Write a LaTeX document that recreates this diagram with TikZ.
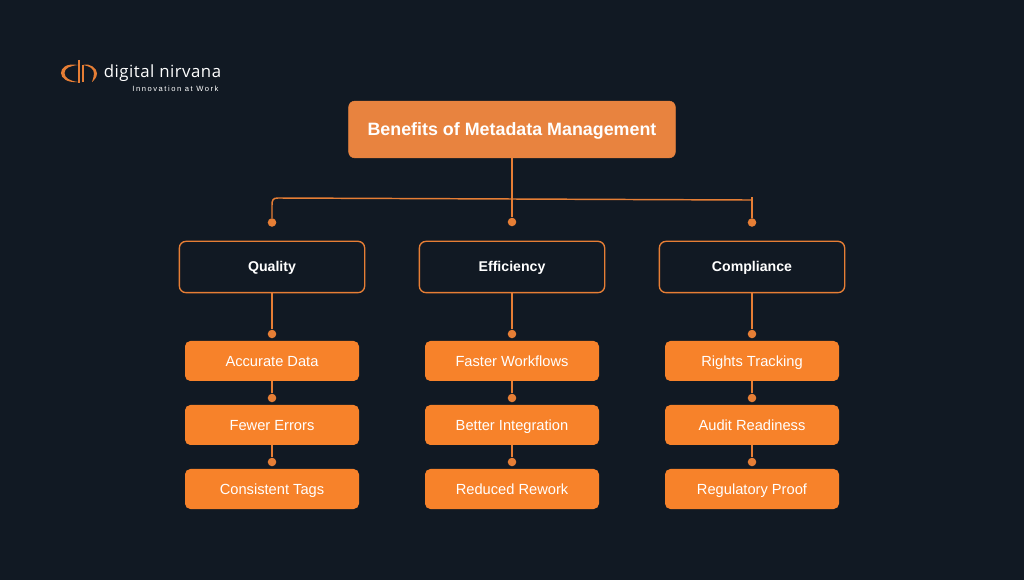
\documentclass[tikz,border=0pt]{standalone}
\usepackage{fontspec}
\usetikzlibrary{calc}
\setmainfont{Liberation Sans}
\newfontfamily\logofont{Open Sans}[LetterSpace=3]
\newfontfamily\tagfont{Liberation Sans}[LetterSpace=20]
\definecolor{bgdark}{HTML}{111923}
\definecolor{lineorange}{HTML}{E67E35}
\definecolor{titleorange}{HTML}{E8833F}
\definecolor{itemorange}{HTML}{F7822A}
\tikzset{
  titlebox/.style={draw=titleorange, fill=titleorange, rounded corners=4.5pt, minimum width=245pt, minimum height=42.5pt, text=white, text height=11.7pt, text depth=2.5pt, font=\fontsize{13.4}{15}\selectfont\bfseries},
  groupbox/.style={draw=lineorange, line width=1pt, fill=bgdark, rounded corners=5pt, minimum width=139pt, minimum height=38.5pt, text=white, text height=9.2pt, text depth=2pt, font=\fontsize{10.6}{12}\selectfont\bfseries},
  itembox/.style={fill=itemorange, rounded corners=4pt, minimum width=130.5pt, minimum height=30pt, text=white, text height=9.7pt, text depth=2pt, font=\fontsize{11}{12}\selectfont},
  dotnode/.style={circle, fill=lineorange, inner sep=0pt, minimum size=6.4pt},
  wire/.style={draw=lineorange, line width=1.1pt}
}
\begin{document}
\begin{tikzpicture}[x=0.75pt, y=-0.75pt]
  \fill [bgdark] (0, 0) rectangle (1024, 580);
  \useasboundingbox (0, 0) rectangle (1024, 580);

  \fill [lineorange] (78, 65) .. controls (66, 63) and (61, 68) .. (61, 73) .. controls (61, 78) and (67, 83) .. (78, 82) .. controls (70, 81) and (64.5, 78) .. (64.5, 73) .. controls (64.5, 68) and (70, 66) .. (78, 65);
  \draw [lineorange, line width=0.8pt] (79, 60) -- (79, 83);
  \fill [lineorange] (83, 65) .. controls (90, 63) and (97, 68) .. (97, 73.5) .. controls (97, 78) and (93, 81) .. (92, 82) .. controls (93, 79) and (94, 76) .. (94, 73.5) .. controls (94, 69) and (90, 66) .. (83, 65);
  \draw [lineorange, line width=0.8pt] (83, 65) -- (83, 82);
  \node (brand) at (162.5, 73.5) [text=white, font=\fontsize{12.6}{14}\logofont] {digital nirvana};
  \node (slogan) at (175.5, 88.5) [text=white, font=\fontsize{5.7}{7}\tagfont] {Innovation at Work};

  \node (title) at (512, 129.5) [titlebox] {Benefits of Metadata Management};

  \node (quality) at (272, 267) [groupbox] {Quality};
  \node (efficiency) at (512, 267) [groupbox] {Efficiency};
  \node (compliance) at (752, 267) [groupbox] {Compliance};

  \node (q1) at (272, 361) [itembox] {Accurate Data};
  \node (q2) at (272, 425) [itembox] {Fewer Errors};
  \node (q3) at (272, 489) [itembox] {Consistent Tags};
  \node (e1) at (512, 361) [itembox] {Faster Workflows};
  \node (e2) at (512, 425) [itembox] {Better Integration};
  \node (e3) at (512, 489) [itembox] {Reduced Rework};
  \node (c1) at (752, 361) [itembox] {Rights Tracking};
  \node (c2) at (752, 425) [itembox] {Audit Readiness};
  \node (c3) at (752, 489) [itembox] {Regulatory Proof};

  \node (dq) at (272, 222.5) [dotnode] {};
  \node (de) at (512, 222) [dotnode] {};
  \node (dc) at (752, 222.5) [dotnode] {};
  \coordinate (bend) at (752, 200);
  \coordinate (tip) at (752, 197);

  \draw [wire] (title.south) -- (de);
  \draw [wire] (dq) -- (272, 205) .. controls (272, 200) and (273, 198) .. (278, 198) -- (745, 200) .. controls (748, 200) and (750, 200) .. (bend);
  \draw [wire] (tip) -- (dc);

  \foreach \from/\dotname/\to/\xval/\yval in {quality/d1/q1/272/334, q1/d2/q2/272/398, q2/d3/q3/272/462,
    efficiency/d4/e1/512/334, e1/d5/e2/512/398, e2/d6/e3/512/462,
    compliance/d7/c1/752/334, c1/d8/c2/752/398, c2/d9/c3/752/462} {
    \node (\dotname) at (\xval, \yval) [dotnode] {};
    \draw [wire] (\from.south) -- (\dotname);
  }
\end{tikzpicture}
\end{document}
